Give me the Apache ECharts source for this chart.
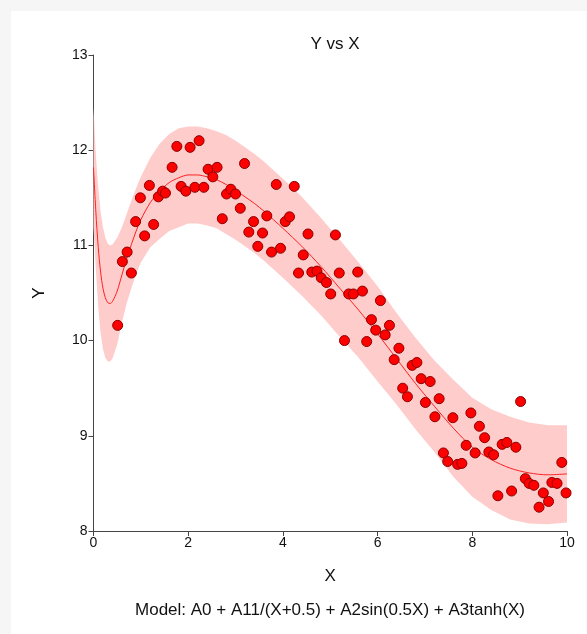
<!DOCTYPE html>
<html>
<head>
<meta charset="utf-8">
<script src="https://cdn.jsdelivr.net/npm/echarts@6/dist/echarts.min.js"></script>
<style>
  html, body { margin: 0; padding: 0; background: #f6f6f6; }
  #chart { width: 587px; height: 634px; }
</style>
</head>
<body>
<div id="chart"></div>
<script>
// observed points
const xData = [0.51, 0.61, 0.71, 0.80, 0.89, 0.99, 1.08, 1.18, 1.27, 1.37,
  1.46, 1.52, 1.66, 1.76, 1.85, 1.95, 2.04, 2.14, 2.23, 2.33,
  2.42, 2.52, 2.61, 2.72, 2.81, 2.90, 3.00, 3.10, 3.19, 3.28,
  3.38, 3.47, 3.57, 3.66, 3.76, 3.86, 3.95, 4.05, 4.14, 4.24,
  4.33, 4.43, 4.53, 4.61, 4.72, 4.81, 4.92, 5.01, 5.11, 5.19,
  5.30, 5.39, 5.49, 5.58, 5.68, 5.77, 5.87, 5.96, 6.06, 6.16,
  6.25, 6.35, 6.45, 6.53, 6.63, 6.73, 6.83, 6.92, 7.01, 7.11,
  7.21, 7.30, 7.39, 7.48, 7.59, 7.69, 7.78, 7.87, 7.97, 8.06,
  8.15, 8.26, 8.35, 8.45, 8.54, 8.63, 8.73, 8.83, 8.92, 9.02,
  9.12, 9.20, 9.30, 9.41, 9.50, 9.61, 9.68, 9.79, 9.89, 9.98];
const yData = [10.16, 10.83, 10.93, 10.71, 11.25, 11.50, 11.10, 11.63, 11.22, 11.51,
  11.57, 11.55, 11.82, 12.04, 11.62, 11.57, 12.03, 11.61, 12.10, 11.61,
  11.80, 11.72, 11.82, 11.28, 11.54, 11.59, 11.54, 11.39, 11.86, 11.14,
  11.25, 10.99, 11.13, 11.31, 10.93, 11.64, 10.97, 11.25, 11.30, 11.62,
  10.71, 10.90, 11.12, 10.72, 10.73, 10.66, 10.61, 10.49, 11.11, 10.71,
  10.00, 10.49, 10.49, 10.72, 10.52, 9.99, 10.22, 10.11, 10.42, 10.06,
  10.16, 9.80, 9.92, 9.50, 9.41, 9.74, 9.77, 9.60, 9.35, 9.57,
  9.20, 9.39, 8.82, 8.73, 9.19, 8.70, 8.71, 8.90, 9.24, 8.82,
  9.10, 8.98, 8.83, 8.80, 8.37, 8.91, 8.93, 8.42, 8.88, 9.36,
  8.55, 8.50, 8.48, 8.25, 8.40, 8.31, 8.51, 8.50, 8.72, 8.40];

// fitted curve and its band
const xFit = [0, 0.05, 0.1, 0.15, 0.2, 0.25, 0.3, 0.35, 0.4, 0.5,
  0.6, 0.7, 0.8, 0.9, 1.0, 1.2, 1.4, 1.6, 1.8, 2.0,
  2.2, 2.4, 2.6, 2.8, 3.0, 3.2, 3.4, 3.6, 3.8, 4.0,
  4.4, 4.8, 5.2, 5.6, 6.0, 6.4, 6.8, 7.2, 7.6, 8.0,
  8.4, 8.8, 9.2, 9.6, 10.0];
const yFit = [11.82, 11.35, 10.98, 10.72, 10.55, 10.45, 10.40, 10.39, 10.41, 10.52,
  10.69, 10.86, 11.01, 11.15, 11.27, 11.45, 11.57, 11.66, 11.71, 11.74,
  11.74, 11.72, 11.69, 11.64, 11.58, 11.51, 11.44, 11.36, 11.27, 11.18,
  10.99, 10.78, 10.55, 10.32, 10.07, 9.81, 9.55, 9.31, 9.08, 8.88,
  8.75, 8.66, 8.61, 8.59, 8.60];
const yUpper = [12.45, 11.95, 11.61, 11.36, 11.19, 11.08, 11.02, 11.00, 11.01, 11.08,
  11.19, 11.33, 11.47, 11.60, 11.72, 11.92, 12.07, 12.17, 12.23, 12.25,
  12.25, 12.23, 12.20, 12.16, 12.10, 12.03, 11.96, 11.88, 11.79, 11.70,
  11.51, 11.29, 11.06, 10.82, 10.57, 10.29, 10.03, 9.79, 9.59, 9.40,
  9.28, 9.20, 9.14, 9.11, 9.11];
const yLower = [11.19, 10.75, 10.35, 10.08, 9.91, 9.82, 9.78, 9.78, 9.81, 9.96,
  10.19, 10.39, 10.55, 10.70, 10.82, 10.98, 11.07, 11.15, 11.19, 11.23,
  11.23, 11.21, 11.18, 11.12, 11.06, 10.99, 10.92, 10.84, 10.75, 10.66,
  10.47, 10.27, 10.04, 9.82, 9.57, 9.33, 9.07, 8.83, 8.57, 8.36,
  8.22, 8.12, 8.08, 8.07, 8.09];

const xTicks = { min: 0, max: 10, interval: 2 };
const yTicks = { min: 8, max: 13, interval: 1 };

const chart = echarts.init(document.getElementById("chart"));

const axisColor = "#444";
const font = "Arial, 'Liberation Sans', sans-serif";

// band polygon: upper edge left->right, then lower edge right->left
function renderBand(params, api) {
  const pts = [];
  for (let i = 0; i < xFit.length; i++) pts.push(api.coord([xFit[i], yUpper[i]]));
  for (let i = xFit.length - 1; i >= 0; i--) pts.push(api.coord([xFit[i], yLower[i]]));
  return {
    type: "polygon",
    shape: { points: pts },
    style: { fill: "#ffcccc" },
    silent: true,
  };
}

const option = {
  backgroundColor: "#f6f6f6",
  animation: false,
  title: {
    text: "Y vs X",
    left: 330,
    top: 31,
    textAlign: "center",
    textStyle: { fontFamily: font, fontSize: 17, fontWeight: "normal", color: "#111" },
  },
  graphic: [
    {
      type: "rect",
      left: 11, top: 11, z: -10,
      shape: { width: 576, height: 623 },
      style: { fill: "#fff" },
    },
    {
      type: "text",
      x: 330, y: 610,
      style: {
        text: "Model: A0 + A11/(X+0.5) + A2sin(0.5X) + A3tanh(X)",
        fontFamily: font, fontSize: 17, fill: "#111",
        align: "center", verticalAlign: "middle",
      },
    },
  ],
  grid: { left: 93.5, right: 20, top: 55, bottom: 103 },
  xAxis: {
    type: "value",
    min: xTicks.min, max: xTicks.max, interval: xTicks.interval,
    name: "X", nameLocation: "middle", nameGap: 37,
    nameTextStyle: { fontFamily: font, fontSize: 17, color: "#111" },
    axisLine: { onZero: false, lineStyle: { color: axisColor, width: 1 } },
    axisTick: { length: 5, lineStyle: { color: axisColor } },
    axisLabel: { fontFamily: font, fontSize: 14, color: "#111", margin: 5 },
    splitLine: { show: false },
  },
  yAxis: {
    type: "value",
    min: yTicks.min, max: yTicks.max, interval: yTicks.interval,
    name: "Y", nameLocation: "middle", nameGap: 46, nameRotate: 90,
    nameTextStyle: { fontFamily: font, fontSize: 17, color: "#111" },
    axisLine: { show: true, onZero: false, lineStyle: { color: axisColor, width: 1 } },
    axisTick: { show: true, length: 5, lineStyle: { color: axisColor } },
    axisLabel: { fontFamily: font, fontSize: 14, color: "#111", margin: 6 },
    splitLine: { show: false },
  },
  series: [
    {
      type: "custom",
      renderItem: renderBand,
      data: [0],
      clip: true,
      z: 1,
    },
    {
      type: "line",
      data: xFit.map((x, i) => [x, yFit[i]]),
      symbol: "none",
      smooth: 0.3,
      lineStyle: { color: "#ff2020", width: 1 },
      z: 3,
    },
    {
      type: "scatter",
      data: xData.map((x, i) => [x, yData[i]]),
      symbolSize: 10,
      itemStyle: { color: "#ff0000", borderColor: "#8b0000", borderWidth: 1, opacity: 1 },
      z: 4,
    },
  ],
};

chart.setOption(option);
</script>
</body>
</html>
